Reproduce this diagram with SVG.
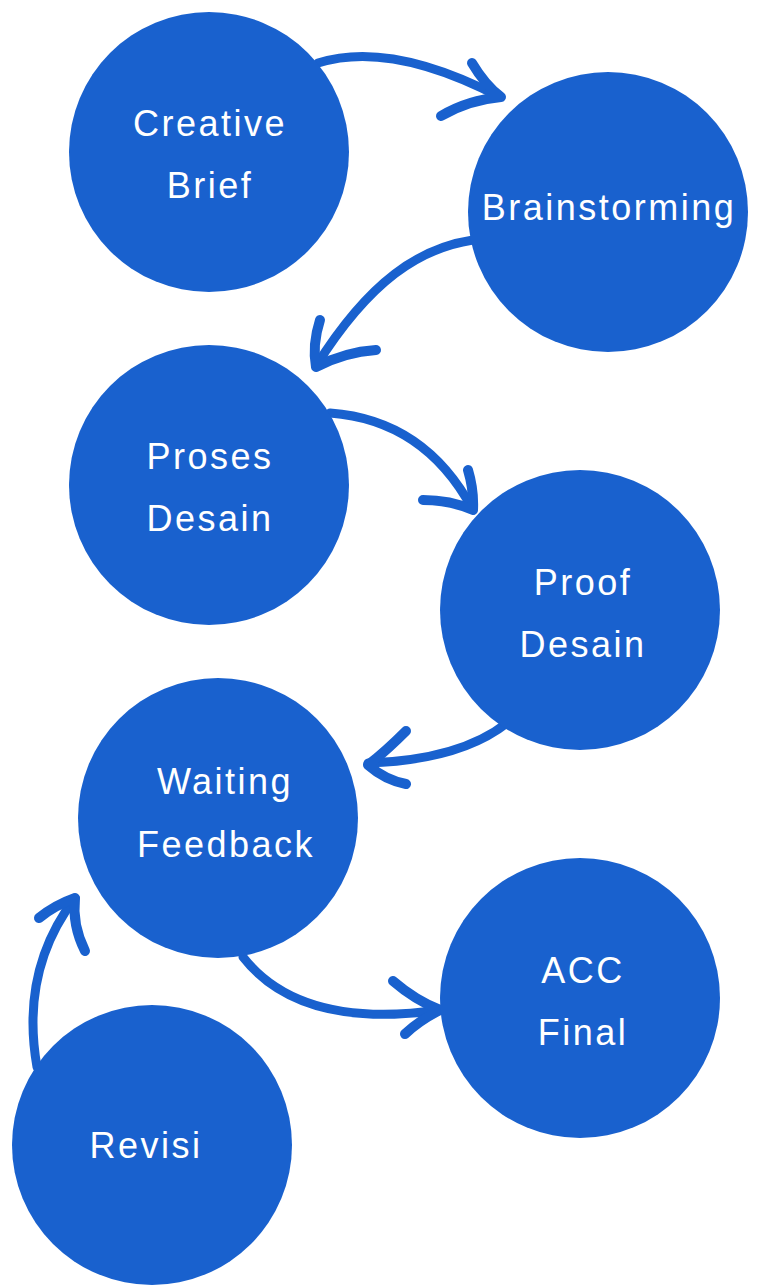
<svg xmlns="http://www.w3.org/2000/svg" width="758" height="1285" viewBox="0 0 758 1285">
  <style>
    .node circle { fill: #1961CE; }
    .node text { fill: #ffffff; font-family: "Liberation Sans", Arial, sans-serif; font-size: 36px; letter-spacing: 2.5px; text-anchor: middle; }
    .conn path { fill: none; stroke: #1961CE; stroke-width: 9; stroke-linecap: round; stroke-linejoin: round; }
    .conn path.barb { stroke-width: 10; }
  </style>
  <rect width="758" height="1285" fill="#ffffff"/>
  <g id="connectors" class="conn">
    <path d="M318,63 Q390,40 500,97"/>
    <path class="barb" d="M472,63 Q485,85 501,97 Q468,100 441,116"/>
    <path d="M473,240 C420,248 370,280 316,366"/>
    <path class="barb" d="M320,320 Q312,345 316,367 Q345,352 376,350"/>
    <path d="M330,413 Q425,420 473,510"/>
    <path class="barb" d="M468,470 Q474,490 473,510 Q450,500 423,500"/>
    <path d="M507,723 Q460,760 368,763"/>
    <path class="barb" d="M406,731 Q385,752 368,765 Q385,780 406,784"/>
    <path d="M243,957 Q300,1030 440,1010"/>
    <path class="barb" d="M393,981 Q415,1000 440,1010 Q420,1020 405,1034"/>
    <path d="M37,1067 Q20,970 75,898"/>
    <path class="barb" d="M39,918 Q55,905 75,898 Q72,925 85,951"/>
  </g>
  <g id="node-creative-brief" class="node">
    <circle cx="209" cy="152" r="140"/>
    <text x="210" y="136">Creative</text>
    <text x="210" y="198">Brief</text>
  </g>
  <g id="node-brainstorming" class="node">
    <circle cx="608" cy="212" r="140"/>
    <text x="609" y="220">Brainstorming</text>
  </g>
  <g id="node-proses-desain" class="node">
    <circle cx="209" cy="485" r="140"/>
    <text x="210" y="469">Proses</text>
    <text x="210" y="531">Desain</text>
  </g>
  <g id="node-proof-desain" class="node">
    <circle cx="580" cy="610" r="140"/>
    <text x="583" y="595">Proof</text>
    <text x="583" y="657">Desain</text>
  </g>
  <g id="node-waiting-feedback" class="node">
    <circle cx="218" cy="818" r="140"/>
    <text x="225" y="794">Waiting</text>
    <text x="226" y="857">Feedback</text>
  </g>
  <g id="node-acc-final" class="node">
    <circle cx="580" cy="998" r="140"/>
    <text x="583" y="983">ACC</text>
    <text x="583" y="1045">Final</text>
  </g>
  <g id="node-revisi" class="node">
    <circle cx="152" cy="1145" r="140"/>
    <text x="146" y="1158">Revisi</text>
  </g>
</svg>
